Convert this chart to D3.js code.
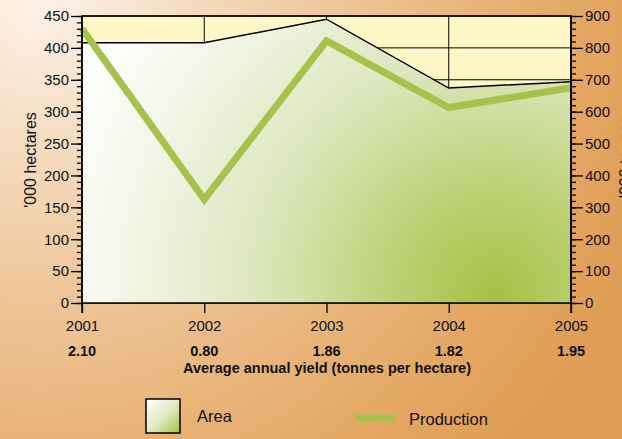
<!DOCTYPE html>
<html><head><meta charset="utf-8">
<script src="https://cdn.jsdelivr.net/npm/d3@7"></script>
<style>html,body{margin:0;padding:0;overflow:hidden;}svg{display:block;font-family:"Liberation Sans",Arial,sans-serif;}</style>
</head><body>
<svg id="c" width="622" height="439"></svg>
<script>
const years = ["2001","2002","2003","2004","2005"];
const area = [408, 408, 445, 337, 347];
const production = [860, 325, 822, 613, 675];
const yields = ["2.10","0.80","1.86","1.82","1.95"];
const leftTicks = [0,50,100,150,200,250,300,350,400,450];
const rightTicks = [0,100,200,300,400,500,600,700,800,900];

const svg = d3.select("#c");
const W=622,H=439;
const L=82,R=571,T=16,B=303;
const defs = svg.append("defs");
const bg = defs.append("radialGradient").attr("id","bg").attr("gradientUnits","userSpaceOnUse")
  .attr("cx",40).attr("cy",0).attr("r",640);
bg.append("stop").attr("offset","0").attr("stop-color","#fdf2e8");
bg.append("stop").attr("offset","0.45").attr("stop-color","#efc79b");
bg.append("stop").attr("offset","0.8").attr("stop-color","#e5aa68");
bg.append("stop").attr("offset","1").attr("stop-color","#e09d55");
const ag = defs.append("radialGradient").attr("id","ag").attr("gradientUnits","userSpaceOnUse")
  .attr("cx",495).attr("cy",295).attr("r",470);
ag.append("stop").attr("offset","0").attr("stop-color","#a6c044");
ag.append("stop").attr("offset","0.22").attr("stop-color","#bcd074");
ag.append("stop").attr("offset","0.5").attr("stop-color","#dce6bb");
ag.append("stop").attr("offset","0.78").attr("stop-color","#f2f5e6");
ag.append("stop").attr("offset","1").attr("stop-color","#ffffff");
const lg = defs.append("linearGradient").attr("id","lg").attr("x1","0").attr("y1","0").attr("x2","1").attr("y2","1");
lg.append("stop").attr("offset","0").attr("stop-color","#ffffff");
lg.append("stop").attr("offset","0.5").attr("stop-color","#e2eac8");
lg.append("stop").attr("offset","1").attr("stop-color","#a6c044");

svg.append("rect").attr("width",W).attr("height",H).attr("fill","url(#bg)");

const x = d3.scalePoint().domain(years).range([L,R]);
const yL = d3.scaleLinear().domain([0,450]).range([B,T]);
const yR = d3.scaleLinear().domain([0,900]).range([B,T]);

svg.append("rect").attr("x",L).attr("y",T).attr("width",R-L).attr("height",B-T).attr("fill","#fff8c6");
// grid
svg.append("g").selectAll("line").data(leftTicks).join("line")
  .attr("x1",L).attr("x2",R).attr("y1",d=>yL(d)).attr("y2",d=>yL(d)).attr("stroke","#000").attr("stroke-width",1);
svg.append("g").selectAll("line").data(years).join("line")
  .attr("x1",d=>x(d)).attr("x2",d=>x(d)).attr("y1",T).attr("y2",B).attr("stroke","#000").attr("stroke-width",1);

// area
const ar = d3.area().x((d,i)=>x(years[i])).y0(B).y1(d=>yL(d));
svg.append("path").datum(area).attr("d",ar).attr("fill","url(#ag)");
svg.append("path").datum(area).attr("d",d3.line().x((d,i)=>x(years[i])).y(d=>yL(d)))
  .attr("fill","none").attr("stroke","#000").attr("stroke-width",1.5);

// production
svg.append("path").datum(production).attr("d",d3.line().x((d,i)=>x(years[i])).y(d=>yR(d)))
  .attr("fill","none").attr("stroke","#a8c14a").attr("stroke-width",7).attr("stroke-linejoin","miter");

// frame
svg.append("rect").attr("x",L).attr("y",T).attr("width",R-L).attr("height",B-T).attr("fill","none").attr("stroke","#000").attr("stroke-width",1.5);

// axes
const gl = svg.append("g").attr("transform",`translate(${L},0)`);
gl.call(d3.axisLeft(yL).tickValues(d3.range(0,451,10)).tickSize(5).tickFormat(""))
gl.append("g").call(d3.axisLeft(yL).tickValues(leftTicks).tickSize(11).tickPadding(2));
const gr = svg.append("g").attr("transform",`translate(${R},0)`);
gr.call(d3.axisRight(yR).tickValues(d3.range(0,901,20)).tickSize(5).tickFormat(""));
gr.append("g").call(d3.axisRight(yR).tickValues(rightTicks).tickSize(12).tickPadding(2));
const gb = svg.append("g").attr("transform",`translate(0,${B})`);
gb.call(d3.axisBottom(x).tickSize(10).tickPadding(7));
svg.selectAll(".domain").remove();
svg.append("line").attr("x1",L).attr("x2",L).attr("y1",T).attr("y2",B+10).attr("stroke","#000").attr("stroke-width",1.5);
svg.append("line").attr("x1",R).attr("x2",R).attr("y1",T).attr("y2",B+10).attr("stroke","#000").attr("stroke-width",1.5);
svg.selectAll(".tick line").attr("stroke","#000").attr("stroke-width",1.3);
svg.selectAll(".tick text").attr("font-size",15).attr("fill","#111").attr("font-family","Liberation Sans, Arial, sans-serif");

// yields
svg.append("g").selectAll("text").data(yields).join("text")
  .attr("x",(d,i)=>x(years[i])).attr("y",356).attr("text-anchor","middle")
  .attr("font-size",14.5).attr("font-weight","bold").attr("fill","#111").text(d=>d);
svg.append("text").attr("x",327).attr("y",373).attr("text-anchor","middle")
  .attr("font-size",14.5).attr("font-weight","bold").attr("fill","#111").text("Average annual yield (tonnes per hectare)");

// axis titles
svg.append("text").attr("transform","translate(36,160) rotate(-90)").attr("text-anchor","middle")
  .attr("font-size",16).attr("fill","#111").text("'000 hectares");
svg.append("text").attr("transform","translate(631,157) rotate(-90)").attr("text-anchor","middle")
  .attr("font-size",16).attr("fill","#111").text("'000 tonnes");

// legend
svg.append("rect").attr("x",146).attr("y",399).attr("width",34).attr("height",34)
  .attr("fill","url(#lg)").attr("stroke","#000").attr("stroke-width",1.5);
svg.append("text").attr("x",197).attr("y",422).attr("font-size",16.5).attr("fill","#111").text("Area");
svg.append("line").attr("x1",355).attr("x2",395).attr("y1",418).attr("y2",418).attr("stroke","#a8c14a").attr("stroke-width",7);
svg.append("text").attr("x",409).attr("y",425).attr("font-size",16.5).attr("fill","#111").text("Production");
</script>
</body></html>
